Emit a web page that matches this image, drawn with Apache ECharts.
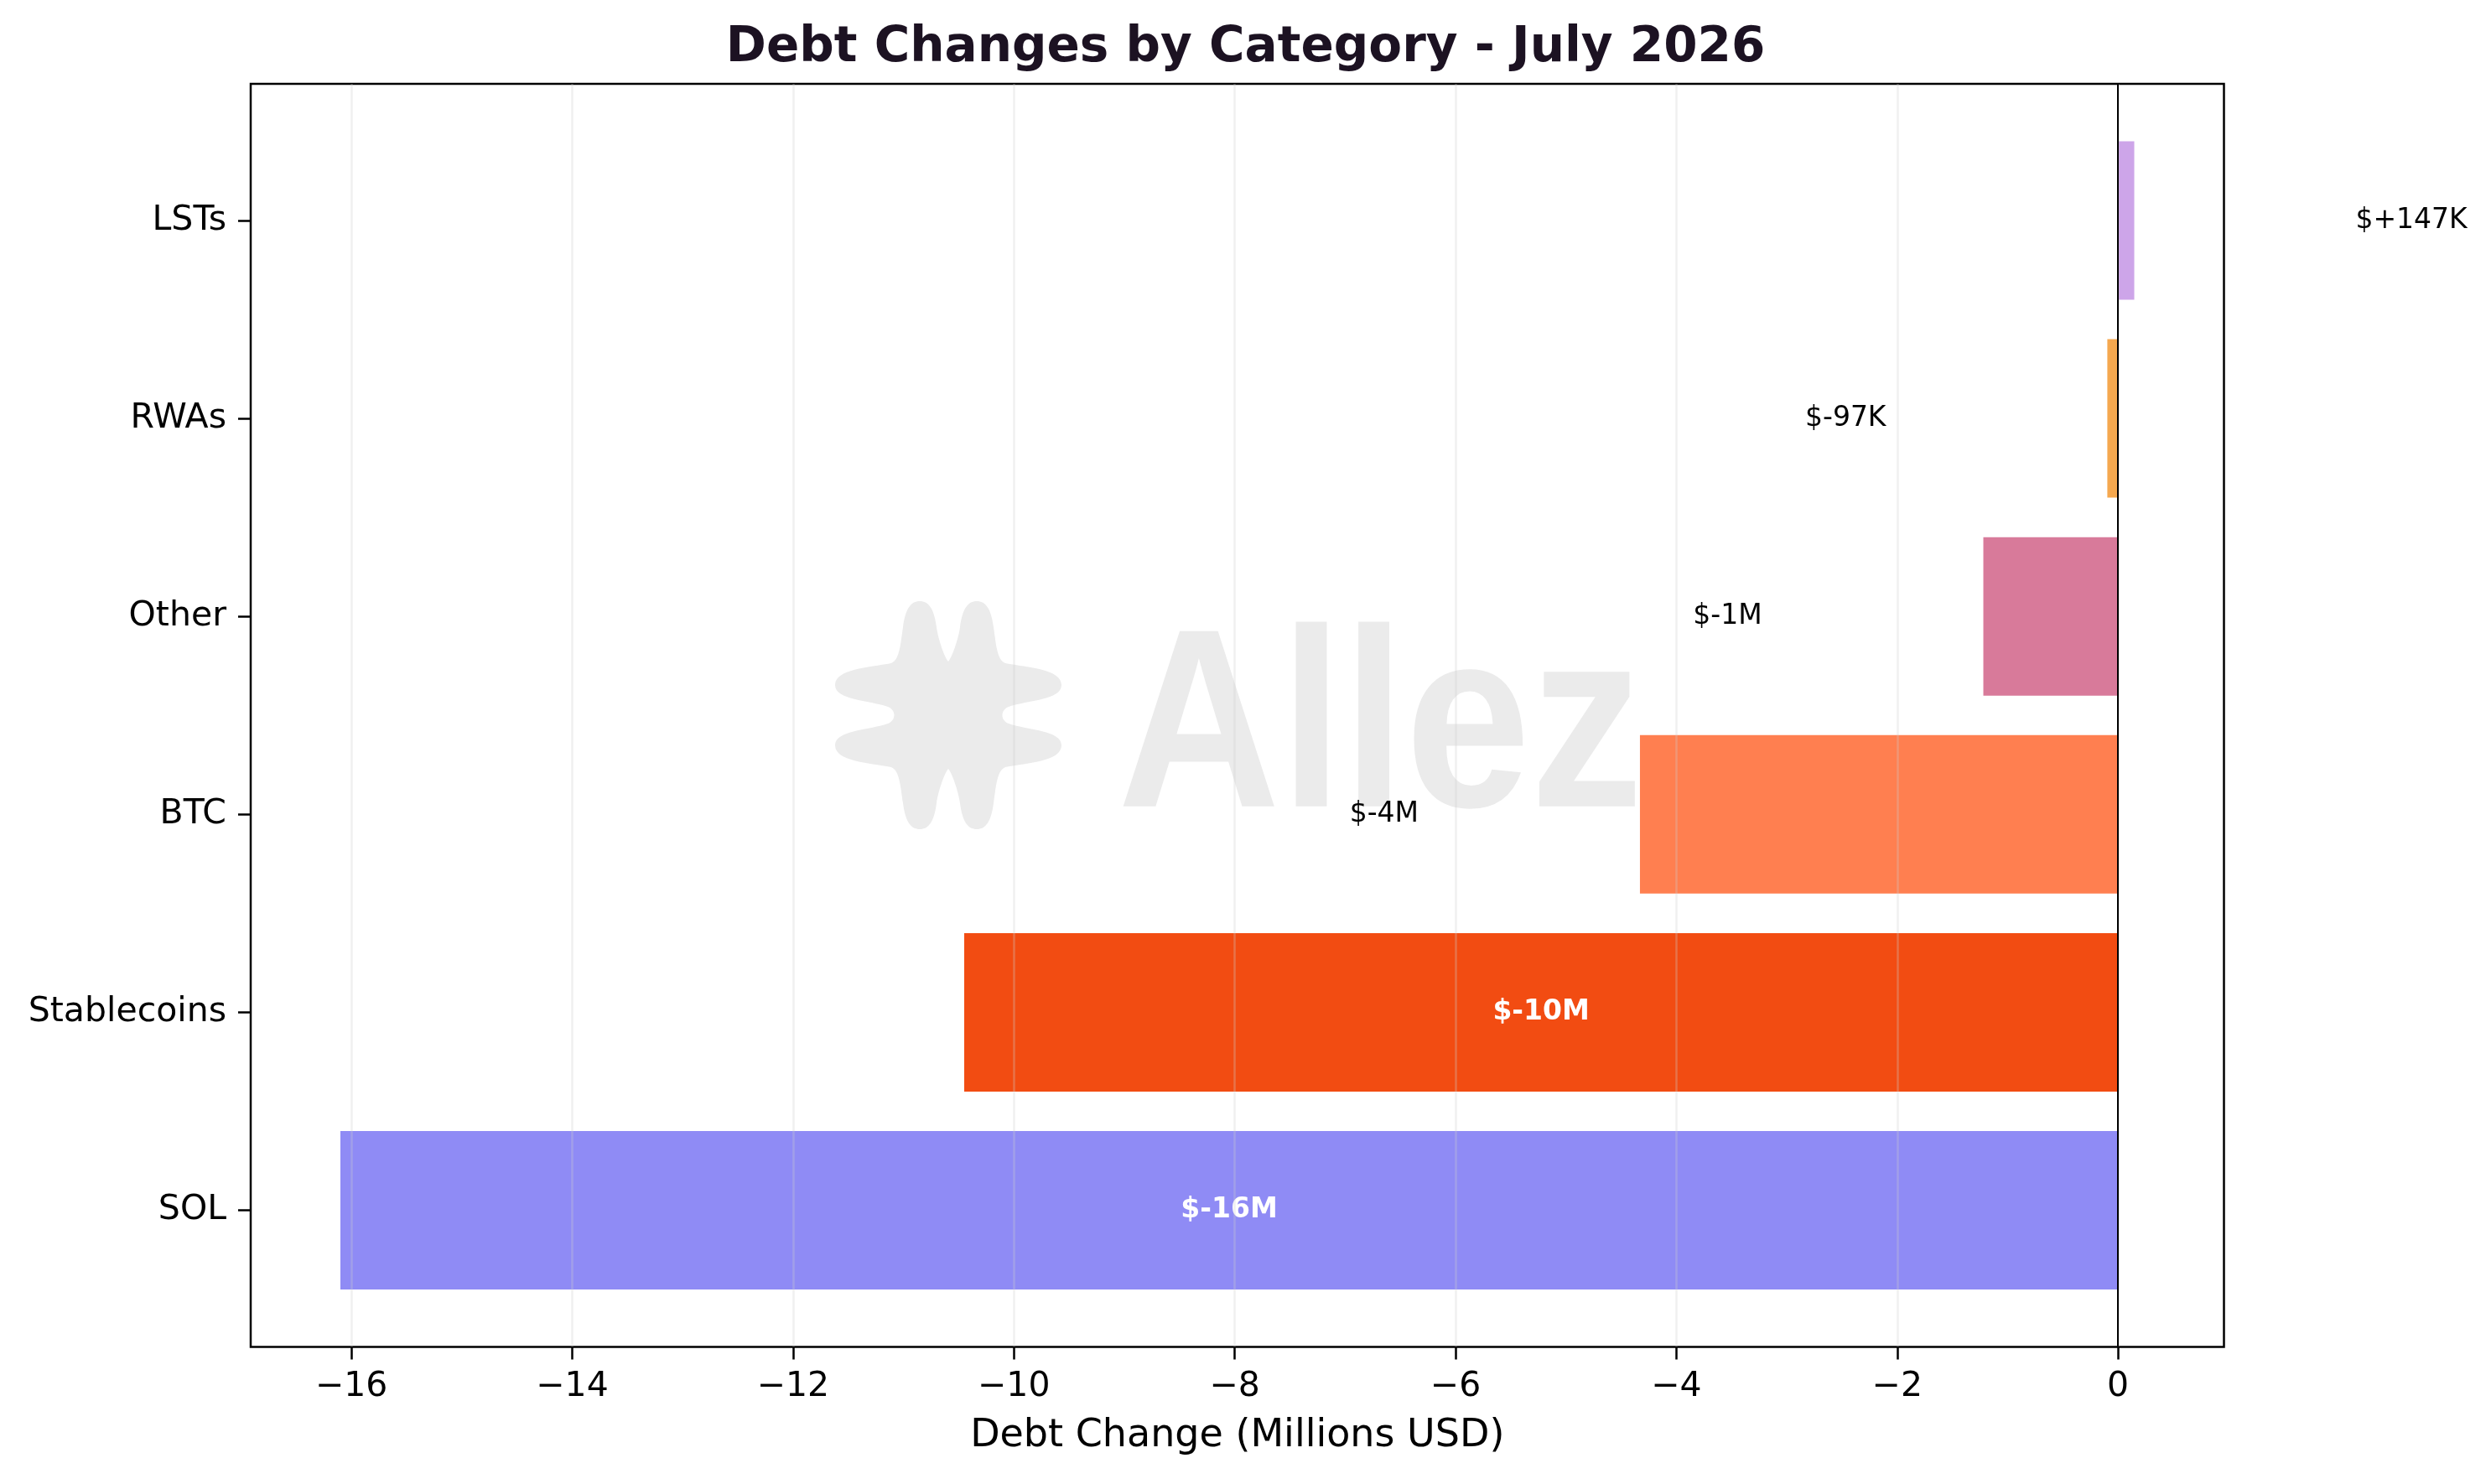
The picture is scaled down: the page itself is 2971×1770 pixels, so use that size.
<!DOCTYPE html>
<html><head><meta charset="utf-8">
<script src="https://cdn.jsdelivr.net/npm/echarts@6/dist/echarts.min.js"></script>
<style>html,body{margin:0;padding:0;background:#fff}#c{width:2971px;height:1770px}</style>
</head><body><div id="c"></div>
<script>
// ---- data (bottom to top, as drawn) ----
const categories = ['SOL', 'Stablecoins', 'BTC', 'Other', 'RWAs', 'LSTs'];
const debtChange = [-16.1, -10.45, -4.33, -1.22, -0.097, 0.147];   // millions USD
const valueLabels = ['$-16M', '$-10M', '$-4M', '$-1M', '$-97K', '$+147K'];
const barColors = ['#8f8bf5', '#f24c12', '#ff7f50', '#d87a9a', '#f5a84f', '#cda5e9'];
const xTicks = [-16, -14, -12, -10, -8, -6, -4, -2, 0];
const chartTitle = 'Debt Changes by Category - July 2026';
const xAxisTitle = 'Debt Change (Millions USD)';
const watermarkText = 'Allez';

// ---- style / layout ----
const FONT = '"DejaVu Sans", sans-serif';
const INSIDE_MIN = 5;     // |value| above which the label sits inside the bar
const LABEL_GAP = 2.0;    // gap (data units) between bar end and outside label
const frame = { left: 299, right: 318.5, top: 100, bottom: 163.5 };
const frameH = 1770 - frame.top - frame.bottom;
const n = categories.length;
const catUnit = frameH / ((n - 1 + 0.8) * 1.1);
const inset = (frameH - n * catUnit) / 2;

const dmin = Math.min(...debtChange), dmax = Math.max(...debtChange);
const pad = (dmax - dmin) * 0.05;
const xMin = dmin - pad, xMax = dmax + pad;

const barData = debtChange.map((v, i) => ({
  value: v,
  itemStyle: { color: barColors[i] },
  label: { show: Math.abs(v) > INSIDE_MIN, formatter: valueLabels[i] }
}));

const outsideData = [];
debtChange.forEach((v, i) => {
  if (Math.abs(v) <= INSIDE_MIN) {
    outsideData.push({
      value: [v + (v >= 0 ? LABEL_GAP : -LABEL_GAP), categories[i]],
      label: { position: v >= 0 ? 'right' : 'left', formatter: valueLabels[i] }
    });
  }
});

const logoPath =
  'M0 -64 C-4 -68 -12 -90 -14 -105 C-17 -128 -24 -136 -34 -136 C-44 -136 -51 -128 -54 -105 ' +
  'C-57 -85 -58 -66 -68 -62 C-95 -57 -135 -55 -135 -36 C-135 -18 -95 -18 -72 -10 ' +
  'C-62 -6 -62 6 -72 10 C-95 18 -135 18 -135 36 C-135 55 -95 57 -68 62 ' +
  'C-58 66 -57 85 -54 105 C-51 128 -44 136 -34 136 C-24 136 -17 128 -14 105 ' +
  'C-12 90 -4 68 0 64 C4 68 12 90 14 105 C17 128 24 136 34 136 C44 136 51 128 54 105 ' +
  'C57 85 58 66 68 62 C95 57 135 55 135 36 C135 18 95 18 72 10 ' +
  'C62 6 62 -6 72 -10 C95 -18 135 -18 135 -36 C135 -55 95 -57 68 -62 ' +
  'C58 -66 57 -85 54 -105 C51 -128 44 -136 34 -136 C24 -136 17 -128 14 -105 C12 -90 4 -68 0 -64 Z';

const graphics = [
  { type: 'text', z: 1, silent: true, x: 1333, y: 878, scaleX: 0.883,
    style: { text: watermarkText, font: 'bold 304px "Liberation Sans"', fill: '#ebebeb',
             align: 'left', verticalAlign: 'middle' } }
];
try {
  const LogoShape = echarts.graphic.extendPath(logoPath, {});
  echarts.graphic.registerShape('allezLogo', LogoShape);
  graphics.unshift({ type: 'allezLogo', z: 1, silent: true, x: 1131, y: 853,
                     style: { fill: '#ebebeb' } });
} catch (e) { console.log('logo failed', e); }

const chart = echarts.init(document.getElementById('c'), null, { renderer: 'canvas' });
chart.setOption({
  animation: false,
  backgroundColor: '#ffffff',
  title: {
    text: chartTitle, left: 'center', top: 24,
    textStyle: { fontFamily: FONT, fontWeight: 'bold', fontSize: 58, color: '#1c1222' }
  },
  graphic: graphics,
  grid: [
    { left: frame.left, right: frame.right, top: frame.top, bottom: frame.bottom,
      show: true, borderColor: '#000', borderWidth: 2.5, backgroundColor: 'transparent' },
    { left: frame.left, right: frame.right, top: frame.top + inset, bottom: frame.bottom + inset }
  ],
  xAxis: [
    { gridIndex: 0, type: 'value', min: xMin, max: xMax, z: 3,
      axisLine: { show: false, onZero: false },
      axisTick: { show: true, length: 15, customValues: xTicks, lineStyle: { color: '#000', width: 2.5 } },
      axisLabel: { customValues: xTicks, margin: 27, fontSize: 41, color: '#000', fontFamily: FONT,
                   formatter: v => String(v).replace('-', '\u2212') },
      splitLine: { show: true, lineStyle: { color: 'rgba(204,204,204,0.3)', width: 2.5 } },
      name: xAxisTitle, nameLocation: 'middle', nameGap: 84,
      nameTextStyle: { fontSize: 46, color: '#000', fontFamily: FONT } },
    { gridIndex: 1, type: 'value', min: xMin, max: xMax, show: false,
      splitLine: { show: false }, axisLine: { onZero: false } }
  ],
  yAxis: [
    { gridIndex: 0, type: 'value', min: 0, max: 1, show: false, splitLine: { show: false },
      axisLine: { onZero: false } },
    { gridIndex: 1, type: 'category', data: categories,
      axisLine: { show: false, onZero: false },
      axisTick: { show: true, alignWithLabel: true, length: 15, lineStyle: { color: '#000', width: 2.5 } },
      axisLabel: { margin: 29, fontSize: 41, color: '#000', fontFamily: FONT },
      splitLine: { show: false } }
  ],
  series: [
    { type: 'bar', xAxisIndex: 1, yAxisIndex: 1, barWidth: '80%', z: 2, data: barData,
      label: { show: false, position: 'inside', color: '#fff', fontWeight: 'bold', fontSize: 33, fontFamily: FONT } },
    { type: 'scatter', xAxisIndex: 1, yAxisIndex: 1, symbolSize: 1, clip: false, z: 4,
      itemStyle: { color: 'rgba(255,255,255,0)' }, data: outsideData,
      label: { show: true, distance: 0, color: '#000000', opacity: 1, textBorderWidth: 0,
               fontSize: 33, fontFamily: FONT } },
    { type: 'line', xAxisIndex: 0, yAxisIndex: 0, data: [], z: 5,
      markLine: { silent: true, symbol: ['none', 'none'], label: { show: false },
                  lineStyle: { color: '#000', width: 2, type: 'solid' },
                  data: [{ xAxis: 0 }] } }
  ]
});
</script></body></html>
